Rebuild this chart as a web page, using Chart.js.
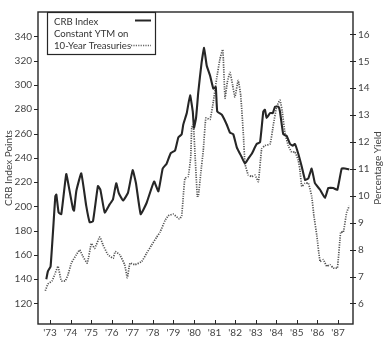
<!DOCTYPE html>
<html><head><meta charset="utf-8">
<script src="https://cdn.jsdelivr.net/npm/chart.js@4"></script>
<style>html,body{margin:0;padding:0;background:#fff}#wrap{width:388px;height:341px;position:relative}</style>
</head><body><div id="wrap"><canvas id="c" width="388" height="341"></canvas></div>
<script>
const yearTicks = [1973,1974,1975,1976,1977,1978,1979,1980,1981,1982,1983,1984,1985,1986,1987];
const crbTicks = [120,140,160,180,200,220,240,260,280,300,320,340];
const yieldTicks = [6,7,8,9,10,11,12,13,14,15,16];

const crbYears = [1972.82,1972.90,1973.03,1973.26,1973.31,1973.42,1973.55,1973.79,1973.91,1974.12,1974.17,1974.28,1974.52,1974.76,1974.93,1975.09,1975.33,1975.45,1975.66,1975.90,1976.06,1976.22,1976.34,1976.55,1976.79,1977.02,1977.18,1977.41,1977.70,1978.06,1978.27,1978.48,1978.67,1978.87,1979.08,1979.24,1979.40,1979.48,1979.65,1979.81,1979.94,1980.00,1980.10,1980.21,1980.37,1980.49,1980.62,1980.78,1980.94,1981.06,1981.13,1981.35,1981.59,1981.75,1981.91,1982.08,1982.32,1982.48,1982.64,1982.81,1983.05,1983.21,1983.37,1983.45,1983.53,1983.70,1983.83,1983.94,1984.10,1984.18,1984.34,1984.51,1984.67,1984.80,1984.91,1985.07,1985.24,1985.40,1985.56,1985.72,1985.88,1986.13,1986.37,1986.53,1986.77,1986.97,1987.18,1987.34,1987.55];
const crbValues = [139.9,146.6,150.6,208.4,209.7,194.9,193.6,226.6,216.7,197.6,196.5,212.7,227.2,200.6,186.9,187.7,216.7,213.7,194.9,201.6,205.7,219.1,211.1,204.8,211.1,229.8,219.1,193.6,203.0,220.5,212.4,231.2,235.2,243.9,246.0,256.8,259.4,267.5,276.9,291.6,278.2,264.8,272.9,294.3,318.5,330.6,315.8,307.8,297.0,298.3,278.2,275.5,267.5,260.8,259.4,248.7,240.6,235.2,239.3,243.3,251.4,252.7,278.2,279.6,272.9,276.9,276.9,282.2,282.2,278.2,259.4,258.0,251.4,250.0,251.4,243.3,232.6,221.8,223.1,231.2,219.1,213.7,207.0,215.1,215.1,213.7,231.2,231.2,230.4];

const yieldYears = [1972.77,1972.90,1973.10,1973.23,1973.39,1973.55,1973.74,1973.88,1974.04,1974.28,1974.44,1974.60,1974.81,1975.01,1975.17,1975.42,1975.58,1975.82,1976.07,1976.17,1976.39,1976.63,1976.76,1976.89,1977.13,1977.46,1977.70,1977.94,1978.19,1978.35,1978.59,1978.75,1978.99,1979.29,1979.40,1979.48,1979.56,1979.72,1979.84,1979.89,1979.97,1980.05,1980.16,1980.21,1980.33,1980.45,1980.58,1980.78,1980.94,1981.10,1981.26,1981.40,1981.51,1981.62,1981.75,1981.88,1981.99,1982.15,1982.27,1982.40,1982.48,1982.64,1982.81,1982.97,1983.13,1983.29,1983.45,1983.70,1983.86,1984.02,1984.18,1984.29,1984.42,1984.58,1984.75,1984.91,1985.07,1985.15,1985.24,1985.40,1985.56,1985.72,1985.83,1985.97,1986.13,1986.29,1986.45,1986.61,1986.77,1986.97,1987.13,1987.26,1987.42,1987.55];
const yieldValues = [6.47,6.72,6.84,7.08,7.38,6.84,6.84,7.08,7.50,7.81,7.99,7.75,7.50,8.23,8.05,8.47,8.17,7.81,7.68,7.93,7.81,7.44,6.96,7.50,7.44,7.56,7.87,8.17,8.47,8.65,9.08,9.26,9.32,9.14,9.26,9.99,10.65,10.72,11.44,12.53,12.65,11.56,9.99,9.99,10.84,11.68,12.90,12.84,13.50,14.35,15.08,15.44,13.63,14.23,14.59,14.11,13.68,14.29,13.75,12.29,11.20,10.77,10.72,10.77,10.53,11.75,11.87,11.93,12.65,13.32,13.56,13.14,12.35,11.87,11.63,11.63,11.32,10.96,10.35,10.47,10.47,9.99,9.26,8.53,7.56,7.63,7.38,7.44,7.32,7.32,8.65,8.65,9.38,9.63];

const legendLabels = ['CRB Index','Constant YTM on','10-Year Treasuries'];
const leftTitle = 'CRB Index Points';
const rightTitle = 'Percentage Yield';

const INK = '#262626';
const TXT = '#444';
const FONT = 'Lato, "Open Sans", sans-serif';

const framePlugin = {
  id:'frame',
  afterDraw(chart){
    const {ctx, chartArea:a, scales} = chart;
    ctx.save();
    ctx.strokeStyle = INK; ctx.lineWidth = 1.4;
    ctx.strokeRect(a.left, a.top, a.right-a.left, a.bottom-a.top);
    ctx.lineWidth = 1;
    scales.y.ticks.forEach(t=>{const y=Math.round(scales.y.getPixelForValue(t.value))+0.5;ctx.beginPath();ctx.moveTo(a.left-4,y);ctx.lineTo(a.left,y);ctx.stroke();});
    scales.y2.ticks.forEach(t=>{const y=Math.round(scales.y2.getPixelForValue(t.value))+0.5;ctx.beginPath();ctx.moveTo(a.right-3,y);ctx.lineTo(a.right+3,y);ctx.stroke();});
    scales.x.ticks.forEach(t=>{const x=Math.round(scales.x.getPixelForValue(t.value))+0.5;ctx.beginPath();ctx.moveTo(x,a.bottom-4);ctx.lineTo(x,a.bottom);ctx.stroke();});
    ctx.fillStyle = TXT; ctx.font = '10px '+FONT; ctx.textAlign='center'; ctx.textBaseline='middle';
    const cy = (a.top+a.bottom)/2;
    ctx.save(); ctx.translate(9, cy); ctx.rotate(-Math.PI/2); ctx.fillText(leftTitle,0,0); ctx.restore();
    ctx.save(); ctx.translate(378, cy); ctx.rotate(-Math.PI/2); ctx.fillText(rightTitle,0,0); ctx.restore();
    ctx.lineWidth = 1.2; ctx.strokeStyle = INK;
    ctx.strokeRect(47.5, 12.5, 108, 42);
    ctx.font = '9.6px '+FONT; ctx.textAlign='left'; ctx.fillStyle='#333';
    ctx.fillText(legendLabels[0], 54, 22);
    ctx.fillText(legendLabels[1], 54, 34);
    ctx.fillText(legendLabels[2], 54, 46);
    ctx.lineWidth = 2; ctx.strokeStyle = INK;
    ctx.beginPath(); ctx.moveTo(135,20.5); ctx.lineTo(151,20.5); ctx.stroke();
    ctx.lineWidth = 1.4; ctx.strokeStyle = '#666'; ctx.setLineDash([1.2,1.2]);
    ctx.beginPath(); ctx.moveTo(131,45.5); ctx.lineTo(151,45.5); ctx.stroke();
    ctx.restore();
  }
};

const crbData = crbYears.map((x,i)=>({x, y: crbValues[i]}));
const yieldData = yieldYears.map((x,i)=>({x, y: yieldValues[i]}));

new Chart(document.getElementById('c'), {
  type:'line',
  data:{datasets:[
    {label:'CRB Index', data:crbData, yAxisID:'y', borderColor:INK, borderWidth:2.1, pointRadius:0, tension:0.12, fill:false},
    {label:'Constant YTM on 10-Year Treasuries', data:yieldData, yAxisID:'y2', borderColor:'#555', borderWidth:1.7, borderDash:[1.2,1.2], pointRadius:0, tension:0.12, fill:false}
  ]},
  options:{
    responsive:false, animation:false, events:[],
    layout:{padding:{top:5,left:0,right:0,bottom:0}},
    plugins:{legend:{display:false}, tooltip:{enabled:false}},
    scales:{
      x:{type:'linear', min:1972.417, max:1987.73,
        afterBuildTicks(s){s.ticks = yearTicks.map(v=>({value:v}));},
        afterFit(s){s.height = 17;},
        grid:{display:false, drawTicks:false}, border:{display:false},
        ticks:{padding:3, color:TXT, font:{size:10, family:FONT}, maxRotation:0, autoSkip:false, callback:v=>"'"+String(v).slice(2)}
      },
      y:{type:'linear', position:'left', min:103.08, max:360.15,
        afterBuildTicks(s){s.ticks = crbTicks.map(v=>({value:v}));},
        afterFit(s){s.width = 38;},
        grid:{display:false, drawTicks:false}, border:{display:false},
        ticks:{padding:6, color:TXT, font:{size:10, family:FONT}, autoSkip:false}
      },
      y2:{type:'linear', position:'right', min:5.236, max:16.836,
        afterBuildTicks(s){s.ticks = yieldTicks.map(v=>({value:v}));},
        afterFit(s){s.width = 35;},
        grid:{display:false, drawTicks:false}, border:{display:false},
        ticks:{padding:5, color:TXT, font:{size:10, family:FONT}, autoSkip:false}
      }
    }
  },
  plugins:[framePlugin]
});
</script></body></html>
